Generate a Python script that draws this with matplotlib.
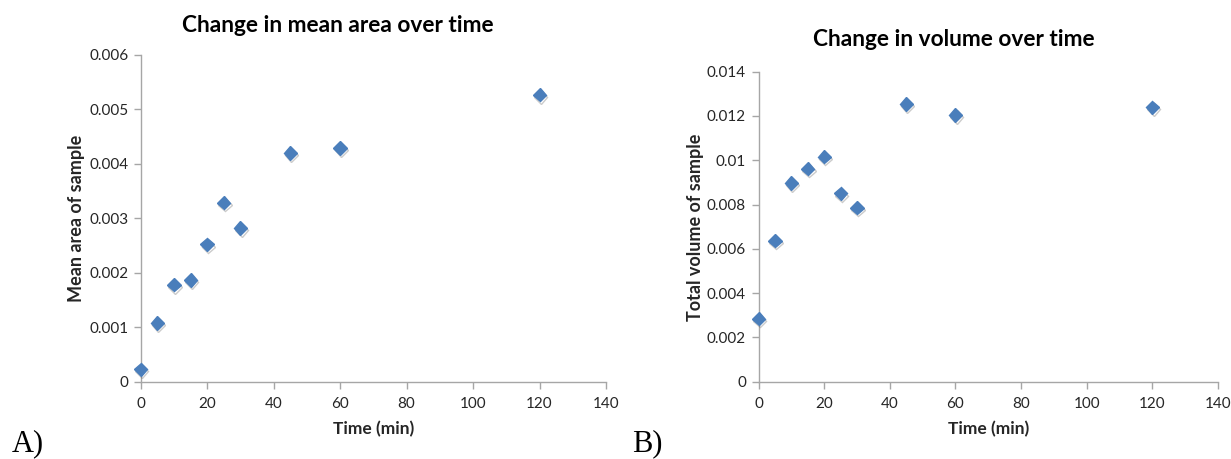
import matplotlib
matplotlib.use('Agg')
import matplotlib.pyplot as plt
import matplotlib.patheffects as pe

# time points (min)
time_min = [0, 5, 10, 15, 20, 25, 30, 45, 60, 120]

# panel A: mean area of sample
mean_area = [0.00023, 0.00108, 0.00178, 0.00187, 0.00252, 0.00329,
             0.00282, 0.00420, 0.00429, 0.00527]

# panel B: total volume of sample
total_volume = [0.00285, 0.00637, 0.00898, 0.00962, 0.01016, 0.00850,
                0.00786, 0.01254, 0.01205, 0.01239]

x_ticks = [0, 20, 40, 60, 80, 100, 120, 140]
area_ticks = [0, 0.001, 0.002, 0.003, 0.004, 0.005, 0.006]
area_labels = ['0', '0.001', '0.002', '0.003', '0.004', '0.005', '0.006']
volume_ticks = [0, 0.002, 0.004, 0.006, 0.008, 0.01, 0.012, 0.014]
volume_labels = ['0', '0.002', '0.004', '0.006', '0.008', '0.01', '0.012', '0.014']

MARKER_COLOR = '#4a7ebb'
AXIS_COLOR = '#a6a6a6'
TEXT_COLOR = '#262626'
FONT = 'Lato'

plt.rcParams['font.family'] = [FONT, 'DejaVu Sans']

fig = plt.figure(figsize=(12.31, 4.59), dpi=100)


def style_axes(ax, yticks, ylabels, ylim):
    ax.set_xlim(0, 140)
    ax.set_ylim(*ylim)
    ax.set_xticks(x_ticks)
    ax.set_xticklabels([str(t) for t in x_ticks])
    ax.set_yticks(yticks)
    ax.set_yticklabels(ylabels)
    for side in ['top', 'right']:
        ax.spines[side].set_visible(False)
    for side in ['left', 'bottom']:
        ax.spines[side].set_color(AXIS_COLOR)
        ax.spines[side].set_linewidth(1.0)
    ax.tick_params(axis='both', direction='out', length=5, width=1.0,
                   color=AXIS_COLOR, labelcolor=TEXT_COLOR, labelsize=11)
    ax.tick_params(axis='x', pad=6)
    ax.tick_params(axis='y', pad=4)


def scatter(ax, x, y):
    ax.plot(x, y, linestyle='none', marker='D', markersize=6.8,
            color=MARKER_COLOR, markeredgecolor=MARKER_COLOR, clip_on=False,
            zorder=3,
            path_effects=[pe.SimpleLineShadow(offset=(0.8, -1.5), alpha=0.3,
                                              shadow_color='#555555'),
                          pe.Normal()])


# panel A
ax1 = fig.add_axes([0.1143, 0.1684, 0.3780, 0.7118])
style_axes(ax1, area_ticks, area_labels, (0, 0.006))
scatter(ax1, time_min, mean_area)
ax1.set_xlabel('Time (min)', fontsize=12.5, fontweight='bold',
               color=TEXT_COLOR, labelpad=7)
ax1.set_ylabel('Mean area of sample', fontsize=13, fontweight='bold',
               color=TEXT_COLOR)
ax1.yaxis.set_label_coords(85 / 1231, 1 - 218 / 459, transform=fig.transFigure)

# panel B
ax2 = fig.add_axes([0.6162, 0.1684, 0.3733, 0.6754])
style_axes(ax2, volume_ticks, volume_labels, (0, 0.014))
scatter(ax2, time_min, total_volume)
ax2.set_xlabel('Time (min)', fontsize=12.5, fontweight='bold',
               color=TEXT_COLOR, labelpad=7)
ax2.set_ylabel('Total volume of sample', fontsize=13, fontweight='bold',
               color=TEXT_COLOR)
ax2.yaxis.set_label_coords(704 / 1231, 1 - 227 / 459, transform=fig.transFigure)

# titles
fig.text(338 / 1231, 1 - 25 / 459, 'Change in mean area over time',
         ha='center', va='center', fontsize=16.3, fontweight='bold', color='#000000')
fig.text(954 / 1231, 1 - 39 / 459, 'Change in volume over time',
         ha='center', va='center', fontsize=16.3, fontweight='bold', color='#000000')

# panel letters
fig.text(12 / 1231, 1 - 444 / 459, 'A)', ha='left', va='center',
         fontsize=22, family='Liberation Serif')
fig.text(632 / 1231, 1 - 444 / 459, 'B)', ha='left', va='center',
         fontsize=22, family='Liberation Serif')

fig.savefig('out.png', dpi=100)
